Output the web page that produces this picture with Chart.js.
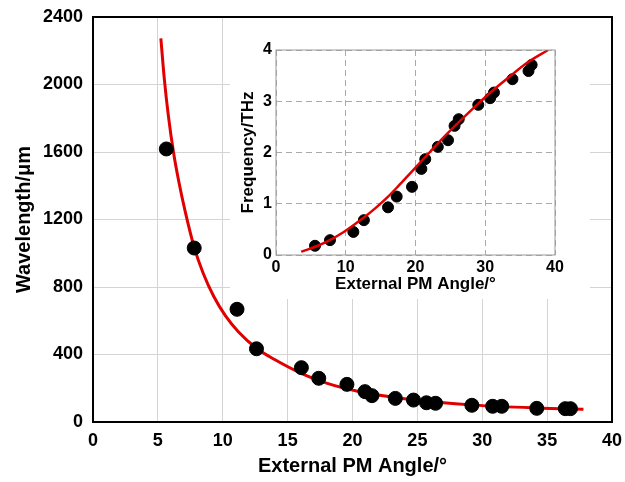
<!DOCTYPE html>
<html>
<head>
<meta charset="utf-8">
<script src="https://cdn.jsdelivr.net/npm/chart.js@4"></script>
<style>
  body { margin: 0; background: #fff; }
  #wrap { position: relative; width: 625px; height: 482px; }
  #mainChart { position: absolute; left: 0; top: 0; }
  #insetChart { position: absolute; left: 230px; top: 18px; background: #fff; }
</style>
</head>
<body>
<div id="wrap">
  <canvas id="mainChart" width="625" height="482"></canvas>
  <canvas id="insetChart" width="360" height="281"></canvas>
</div>
<script>
// measured wavelength vs external angle
const angleData = [5.65, 7.8, 11.1, 12.6, 16.06, 17.4, 19.57, 20.96, 21.5, 23.3, 24.7, 25.7, 26.4, 29.2, 30.8, 31.5, 34.2, 36.4, 36.8];
const wavelengthData = [1618, 1031, 668, 434, 322, 259, 223, 180, 156, 140, 130, 114, 111, 99, 93, 93, 81, 79, 79];

// theory curve (main)
const curveAngle = [5.23, 5.5, 5.8, 6.2, 6.6, 7.1, 7.8, 8.5, 9.3, 10.2, 11.2, 12.6, 14.0, 16.0, 18.0, 20.4, 24.3, 29.4, 34.6, 37.8];
const curveWavelength = [2274, 2030, 1820, 1600, 1430, 1250, 1035, 880, 745, 630, 535, 437, 370, 290, 230, 182, 135, 100, 82, 75];

// inset: frequency vs angle
const insetAngle = [5.59, 7.74, 11.09, 12.6, 16.06, 17.3, 19.5, 20.84, 21.4, 23.2, 24.66, 25.6, 26.2, 29.0, 30.7, 31.25, 33.9, 36.2, 36.65];
const insetFreq = [0.18, 0.29, 0.45, 0.68, 0.93, 1.14, 1.33, 1.68, 1.87, 2.11, 2.24, 2.52, 2.65, 2.93, 3.06, 3.17, 3.43, 3.59, 3.71];

const insetCurveAngle = [3.6, 5, 6, 7.7, 9.6, 11, 12.5, 14.3, 16, 17.5, 19, 20.5, 22, 24, 26.5, 28.8, 31, 33.5, 36, 39];
const insetCurveFreq = [0.065, 0.13, 0.18, 0.29, 0.44, 0.57, 0.72, 0.92, 1.13, 1.34, 1.56, 1.78, 2.0, 2.29, 2.63, 2.93, 3.2, 3.48, 3.75, 4.0];

const xTicks = [0, 5, 10, 15, 20, 25, 30, 35, 40];
const yTicks = [0, 400, 800, 1200, 1600, 2000, 2400];
const insetXTicks = [0, 10, 20, 30, 40];
const insetYTicks = [0, 1, 2, 3, 4];

const FONT = '"Liberation Sans", Arial, sans-serif';

function pts(xs, ys) {
    return xs.map((x, i) => ({ x: x, y: ys[i] }));
}

// draws the box round the plot area
const frame = {
    id: 'frame',
    afterDraw(chart, args, opts) {
        const a = chart.chartArea;
        const ctx = chart.ctx;
        ctx.save();
        ctx.strokeStyle = opts.color;
        ctx.lineWidth = opts.width;
        ctx.strokeRect(a.left, a.top, a.right - a.left, a.bottom - a.top);
        ctx.restore();
    }
};

new Chart(document.getElementById('mainChart'), {
    type: 'scatter',
    data: {
        datasets: [
            {
                data: pts(angleData, wavelengthData),
                backgroundColor: '#000',
                borderColor: '#000',
                pointRadius: 7
            },
            {
                data: pts(curveAngle, curveWavelength),
                showLine: true,
                borderColor: '#e00000',
                borderWidth: 3,
                pointRadius: 0,
                cubicInterpolationMode: 'monotone'
            }
        ]
    },
    options: {
        responsive: false,
        animation: false,
        layout: { padding: { top: 17, right: 13, left: 8 } },
        plugins: {
            legend: { display: false },
            tooltip: { enabled: false },
            frame: { color: '#000', width: 2 }
        },
        scales: {
            x: {
                type: 'linear',
                min: 0,
                max: 40,
                afterBuildTicks: s => { s.ticks = xTicks.map(v => ({ value: v })); },
                afterFit: s => { s.height = 60; s.paddingLeft = 0; s.paddingRight = 0; },
                grid: { color: '#d4d4d4', drawTicks: false },
                border: { display: false },
                ticks: {
                    color: '#000', padding: 8,
                    font: { family: FONT, size: 18, weight: 'bold' },
                    callback: v => String(v)
                },
                title: {
                    display: true,
                    text: 'External PM Angle/°',
                    color: '#000',
                    padding: { top: 4 },
                    font: { family: FONT, size: 20, weight: 'bold' }
                }
            },
            y: {
                type: 'linear',
                min: 0,
                max: 2400,
                afterBuildTicks: s => { s.ticks = yTicks.map(v => ({ value: v })); },
                afterFit: s => { s.width = 85; s.paddingTop = 0; s.paddingBottom = 0; },
                grid: { color: '#d4d4d4', drawTicks: false },
                border: { display: false },
                ticks: {
                    color: '#000', padding: 10,
                    font: { family: FONT, size: 18, weight: 'bold' },
                    callback: v => String(v)
                },
                title: {
                    display: true,
                    text: 'Wavelength/μm',
                    color: '#000',
                    font: { family: FONT, size: 20, weight: 'bold' }
                }
            }
        }
    },
    plugins: [frame]
});

new Chart(document.getElementById('insetChart'), {
    type: 'scatter',
    data: {
        datasets: [
            {
                data: pts(insetCurveAngle, insetCurveFreq),
                showLine: true,
                borderColor: '#e00000',
                borderWidth: 2.5,
                pointRadius: 0,
                cubicInterpolationMode: 'monotone'
            },
            {
                data: pts(insetAngle, insetFreq),
                backgroundColor: '#000',
                borderColor: '#000',
                pointRadius: 5.5
            }
        ]
    },
    options: {
        responsive: false,
        animation: false,
        layout: { padding: { top: 32, right: 35, left: 8 } },
        plugins: {
            legend: { display: false },
            tooltip: { enabled: false },
            frame: { color: '#999', width: 1 }
        },
        scales: {
            x: {
                type: 'linear',
                min: 0,
                max: 40,
                afterBuildTicks: s => { s.ticks = insetXTicks.map(v => ({ value: v })); },
                afterFit: s => { s.height = 44; s.paddingLeft = 0; s.paddingRight = 0; },
                grid: { color: '#aaa', drawTicks: false },
                border: { display: false, dash: [6, 4] },
                ticks: { color: '#000', padding: 3, font: { family: FONT, size: 16, weight: 'bold' } },
                title: {
                    display: true,
                    text: 'External PM Angle/°',
                    color: '#000',
                    padding: { top: 0 },
                    font: { family: FONT, size: 17, weight: 'bold' }
                }
            },
            y: {
                type: 'linear',
                min: 0,
                max: 4,
                afterBuildTicks: s => { s.ticks = insetYTicks.map(v => ({ value: v })); },
                afterFit: s => { s.width = 38; s.paddingTop = 0; s.paddingBottom = 0; },
                grid: { color: '#aaa', drawTicks: false },
                border: { display: false, dash: [6, 4] },
                ticks: { color: '#000', padding: 4, font: { family: FONT, size: 16, weight: 'bold' } },
                title: {
                    display: true,
                    text: 'Frequency/THz',
                    color: '#000',
                    padding: 0,
                    font: { family: FONT, size: 17, weight: 'bold' }
                }
            }
        }
    },
    plugins: [frame]
});
</script>
</body>
</html>
